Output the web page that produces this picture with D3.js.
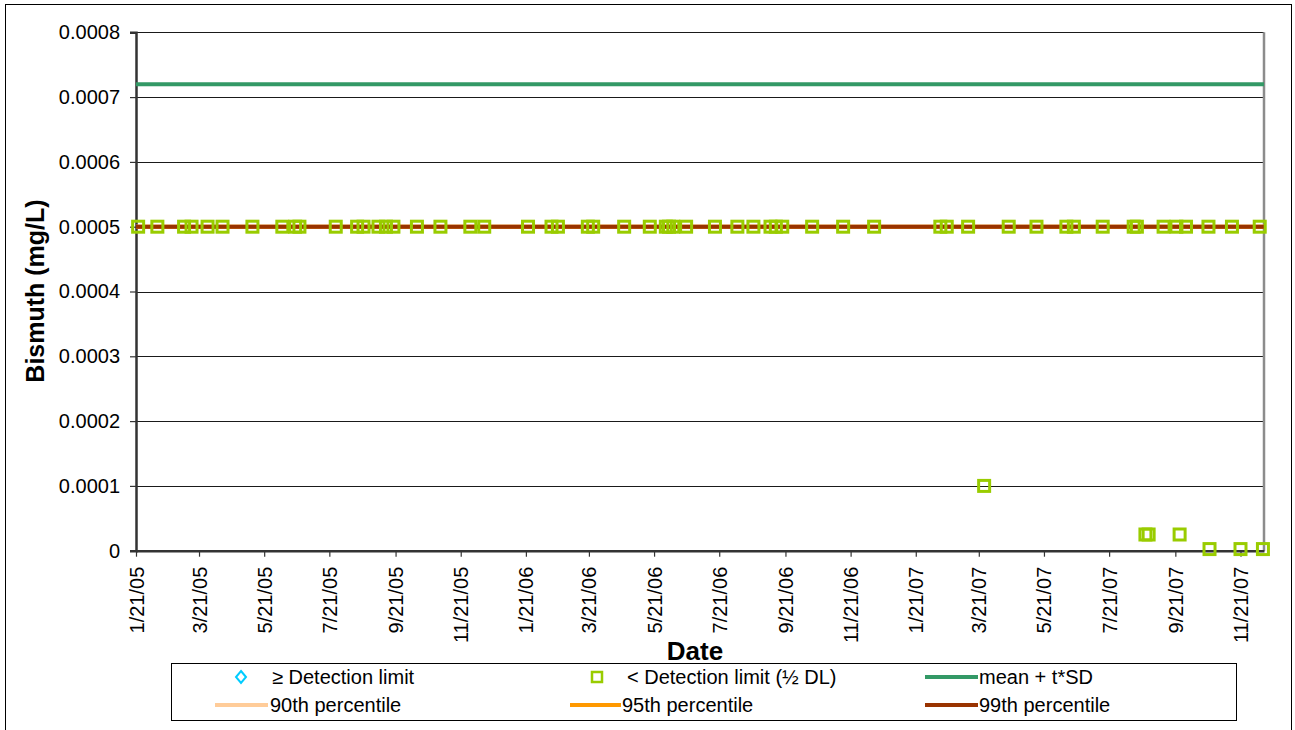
<!DOCTYPE html>
<html>
<head>
<meta charset="utf-8">
<script src="https://cdn.jsdelivr.net/npm/d3@7"></script>
<style>
html,body{margin:0;padding:0;background:#fff;}
svg{display:block;font-family:"Liberation Sans",Arial,sans-serif;}
</style>
</head>
<body>
<svg id="chart" width="1295" height="730"></svg>
<script>
// ---------- DATA ----------
const sampleDates = [
  "2005-01-23","2005-02-10","2005-03-07","2005-03-14","2005-03-29","2005-04-12","2005-05-10",
  "2005-06-07","2005-06-19","2005-06-23","2005-07-27","2005-08-16","2005-08-22","2005-09-05",
  "2005-09-12","2005-09-19","2005-10-11","2005-11-02","2005-11-30","2005-12-13",
  "2006-01-23","2006-02-14","2006-02-20","2006-03-20","2006-03-25","2006-04-23","2006-05-17",
  "2006-06-01","2006-06-04","2006-06-08","2006-06-20","2006-07-17","2006-08-07","2006-08-22",
  "2006-09-07","2006-09-12","2006-09-18","2006-10-16","2006-11-14","2006-12-13",
  "2007-02-13","2007-02-19","2007-03-11","2007-03-26","2007-04-18","2007-05-14","2007-06-11",
  "2007-06-18","2007-07-15","2007-08-13","2007-08-16","2007-08-24","2007-08-27","2007-09-10",
  "2007-09-22","2007-09-25","2007-10-01","2007-10-22","2007-10-23","2007-11-13","2007-11-21",
  "2007-12-09","2007-12-12"
];
const belowDLValues = [
  0.0005,0.0005,0.0005,0.0005,0.0005,0.0005,0.0005,
  0.0005,0.0005,0.0005,0.0005,0.0005,0.0005,0.0005,
  0.0005,0.0005,0.0005,0.0005,0.0005,0.0005,
  0.0005,0.0005,0.0005,0.0005,0.0005,0.0005,0.0005,
  0.0005,0.0005,0.0005,0.0005,0.0005,0.0005,0.0005,
  0.0005,0.0005,0.0005,0.0005,0.0005,0.0005,
  0.0005,0.0005,0.0005,0.0001,0.0005,0.0005,0.0005,
  0.0005,0.0005,0.0005,0.0005,0.000025,0.000025,0.0005,
  0.0005,0.000025,0.0005,0.0005,0.0000025,0.0005,0.0000025,
  0.0005,0.0000025
];
const aboveDLDates = [];
const aboveDLValues = [];
const statNames  = ["mean + t*SD","90th percentile","95th percentile","99th percentile"];
const statValues = [0.00072, 0.0005, 0.0005, 0.0005];
const axisRange  = ["2005-01-21","2007-12-13"];
const xTickLabels = ["1/21/05","3/21/05","5/21/05","7/21/05","9/21/05","11/21/05",
  "1/21/06","3/21/06","5/21/06","7/21/06","9/21/06","11/21/06",
  "1/21/07","3/21/07","5/21/07","7/21/07","9/21/07","11/21/07"];
const yTickValues = [0,0.0001,0.0002,0.0003,0.0004,0.0005,0.0006,0.0007,0.0008];
const yTickLabels = ["0","0.0001","0.0002","0.0003","0.0004","0.0005","0.0006","0.0007","0.0008"];

// ---------- STYLE ----------
const statColors = ["#339966","#FFCC99","#FF9900","#993300"];
const sqColor = "#99CC00", diaColor = "#00CCFF";
const FS = 20;

const svg = d3.select("#chart");
const L = 136, R = 1264, T = 32.3, B = 550.7;
const parseISO = d3.utcParse("%Y-%m-%d");
const parseTick = d3.utcParse("%m/%d/%y");
const fmtTick = d3.utcFormat("%-m/%-d/%y");

const x = d3.scaleUtc().domain(axisRange.map(parseISO)).range([L, R]);
const y = d3.scaleLinear().domain([0, 0.0008]).range([B, T]);

// outer border
svg.append("rect").attr("x",5.5).attr("y",4.5).attr("width",1286).attr("height",740)
  .attr("fill","none").attr("stroke","#000").attr("stroke-width",1);

// gridlines
svg.append("g").selectAll("line").data(yTickValues.slice(1)).join("line")
  .attr("x1",L).attr("x2",R).attr("y1",d=>Math.round(y(d))+0.5).attr("y2",d=>Math.round(y(d))+0.5)
  .attr("stroke","#1a1a1a").attr("stroke-width",1);

// right border of plot area
svg.append("line").attr("x1",R).attr("x2",R).attr("y1",T).attr("y2",B)
  .attr("stroke","#8c8c8c").attr("stroke-width",2.5);

// y axis
const yAxis = d3.axisLeft(y).tickValues(yTickValues).tickSize(6).tickPadding(10)
  .tickFormat((d,i)=>yTickLabels[i]);
const gy = svg.append("g").attr("transform",`translate(${L},0)`).call(yAxis);
gy.select(".domain").attr("stroke","#333").attr("stroke-width",2.5);
gy.selectAll(".tick line").attr("stroke","#333").attr("stroke-width",1.2);
gy.selectAll(".tick text").attr("font-size",FS).attr("fill","#000")
  .attr("font-family","'Liberation Sans',Arial,sans-serif");

// x axis
const xAxis = d3.axisBottom(x).tickValues(xTickLabels.map(parseTick)).tickSize(6)
  .tickFormat(fmtTick).tickSizeOuter(0);
const gx = svg.append("g").attr("transform",`translate(0,${B})`).call(xAxis);
gx.select(".domain").attr("stroke","#333").attr("stroke-width",2.5);
gx.selectAll(".tick line").attr("stroke","#333").attr("stroke-width",1.2);
gx.selectAll(".tick text").attr("font-size",FS).attr("fill","#000")
  .attr("font-family","'Liberation Sans',Arial,sans-serif")
  .attr("transform","rotate(-90)").attr("text-anchor","end")
  .attr("x",-16).attr("y",0).attr("dy","0.35em");

// stat lines (draw percentiles first, mean+t*SD last)
const order = [1,2,3,0];
order.forEach(i=>{
  const pts = axisRange.map(s=>[parseISO(s), statValues[i]]);
  svg.append("path").datum(pts)
    .attr("d", d3.line().x(d=>x(d[0])).y(d=>y(d[1])))
    .attr("stroke", statColors[i]).attr("stroke-width",4).attr("fill","none");
});

// below-DL markers (hollow squares)
const s = 11;
svg.append("g").selectAll("rect").data(sampleDates.map((d,i)=>[parseISO(d), belowDLValues[i]])).join("rect")
  .attr("x",d=>x(d[0])-s/2).attr("y",d=>y(d[1])-s/2).attr("width",s).attr("height",s)
  .attr("fill","none").attr("stroke",sqColor).attr("stroke-width",3);

// above-DL markers (none in this record)
svg.append("g").selectAll("path").data(aboveDLDates.map((d,i)=>[parseISO(d), aboveDLValues[i]])).join("path")
  .attr("d",d3.symbol(d3.symbolDiamond,80)).attr("transform",d=>`translate(${x(d[0])},${y(d[1])})`)
  .attr("fill","none").attr("stroke",diaColor).attr("stroke-width",2);

// axis titles
svg.append("text").attr("transform","translate(44,291) rotate(-90)").attr("text-anchor","middle")
  .attr("font-size",25).attr("font-weight","bold").text("Bismuth (mg/L)");
svg.append("text").attr("x",695).attr("y",660).attr("text-anchor","middle")
  .attr("font-size",26).attr("font-weight","bold").text("Date");

// legend
const lg = svg.append("g");
lg.append("rect").attr("x",171.5).attr("y",663.5).attr("width",1065).attr("height",57)
  .attr("fill","#fff").attr("stroke","#000").attr("stroke-width",1);
const r1 = 677, r2 = 705;
lg.append("path").attr("d","M0,-6L5,0L0,6L-5,0Z").attr("transform",`translate(241,${r1})`)
  .attr("fill","none").attr("stroke",diaColor).attr("stroke-width",2);
lg.append("text").attr("x",272).attr("y",r1).attr("dy","0.35em").attr("font-size",FS).text("\u2265 Detection limit");
lg.append("rect").attr("x",597-5).attr("y",r1-5).attr("width",10).attr("height",10)
  .attr("fill","none").attr("stroke",sqColor).attr("stroke-width",2.5);
lg.append("text").attr("x",627).attr("y",r1).attr("dy","0.35em").attr("font-size",FS).text("< Detection limit (\u00BD DL)");
const lineItems = [
  {i:0, x0:925, x1:978, yy:r1, tx:979},
  {i:1, x0:215, x1:268, yy:r2, tx:270},
  {i:2, x0:570, x1:621, yy:r2, tx:622},
  {i:3, x0:925, x1:978, yy:r2, tx:979}
];
lineItems.forEach(it=>{
  lg.append("line").attr("x1",it.x0).attr("x2",it.x1).attr("y1",it.yy).attr("y2",it.yy)
    .attr("stroke",statColors[it.i]).attr("stroke-width",4);
  lg.append("text").attr("x",it.tx).attr("y",it.yy).attr("dy","0.35em").attr("font-size",FS).text(statNames[it.i]);
});
</script>
</body>
</html>
